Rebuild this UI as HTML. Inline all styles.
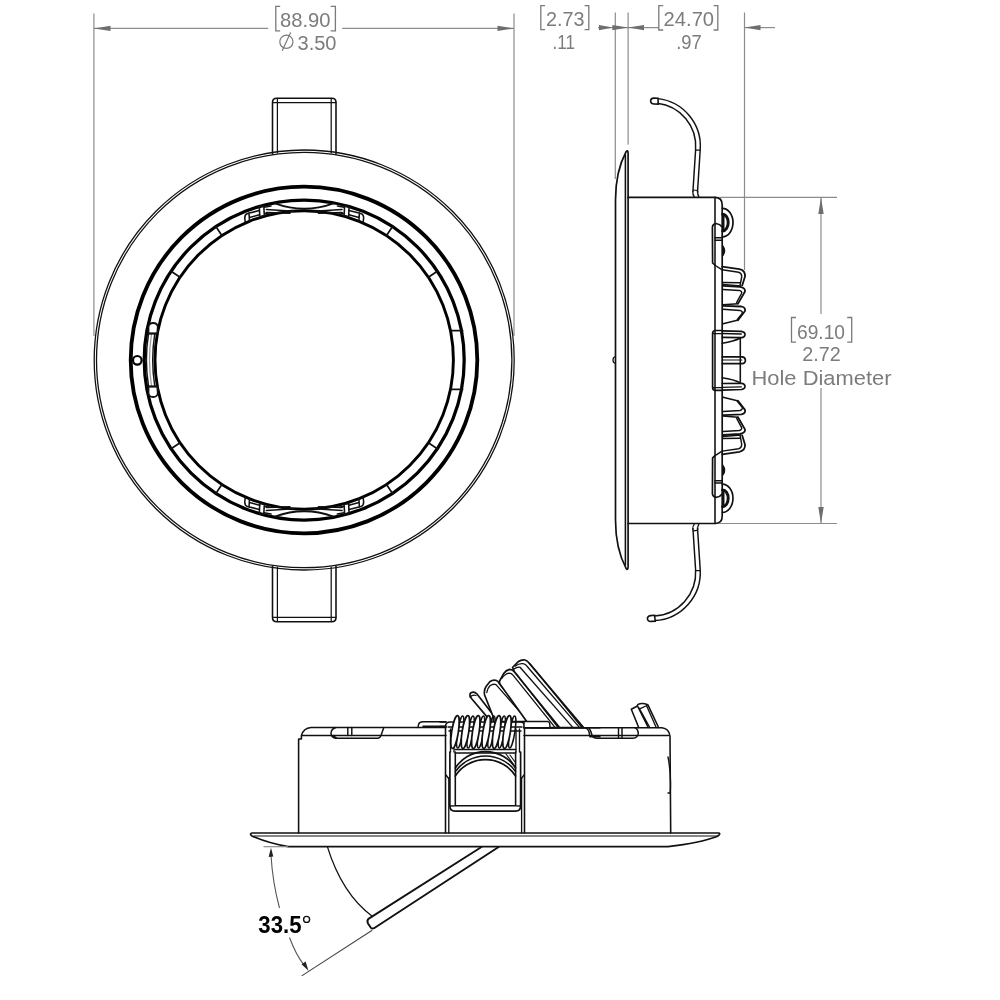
<!DOCTYPE html>
<html><head><meta charset="utf-8">
<style>
html,body{margin:0;padding:0;background:#fff;width:1000px;height:1000px;overflow:hidden}
svg{display:block;will-change:transform}
.t{font-family:"Liberation Sans",sans-serif;fill:#7c7c7c}
.k{fill:none;stroke:#111;stroke-linecap:round;stroke-linejoin:round}
.w{fill:#fff;stroke:#111;stroke-linecap:round;stroke-linejoin:round}
.g{fill:none;stroke:#8c8c8c;stroke-width:1.2}
.ar{fill:#6e6e6e;stroke:none}
</style></head>
<body>
<svg width="1000" height="1000" viewBox="0 0 1000 1000">
<rect width="1000" height="1000" fill="#fff"/>

<g>
  <line class="g" x1="93.9" y1="13.5" x2="93.9" y2="336"/>
  <line class="g" x1="514" y1="13.5" x2="514" y2="336"/>
  <line class="g" x1="93.9" y1="28.4" x2="268.2" y2="28.4"/>
  <line class="g" x1="342.2" y1="28.4" x2="514" y2="28.4"/>
  <path class="ar" d="M93.9 28.4 L110.5 25.7 L110.5 31.1 Z"/>
  <path class="ar" d="M514 28.4 L497.5 25.7 L497.5 31.1 Z"/>
  <line class="g" x1="615.3" y1="12.6" x2="615.3" y2="179"/>
  <line class="g" x1="628.1" y1="12.6" x2="628.1" y2="144.5"/>
  <line class="g" x1="744.5" y1="12.6" x2="744.5" y2="270"/>
  <line class="g" x1="598" y1="27.6" x2="658.8" y2="27.6"/>
  <line class="g" x1="744.5" y1="27.6" x2="775" y2="27.6"/>
  <path class="ar" d="M613 27.6 L599 24.9 L599 30.3 Z"/>
  <path class="ar" d="M628.1 27.6 L612.4 24.9 L612.4 30.3 Z"/>
  <path class="ar" d="M628.1 27.6 L644 24.9 L644 30.3 Z"/>
  <path class="ar" d="M744.5 27.6 L760.5 24.9 L760.5 30.3 Z"/>
</g>
<g class="t" font-size="20.5">
  <text x="280" y="27.2" textLength="50.5" lengthAdjust="spacingAndGlyphs">88.90</text>
  <text x="297.5" y="50" textLength="39" lengthAdjust="spacingAndGlyphs">3.50</text>
  <text x="546" y="26" textLength="38.5" lengthAdjust="spacingAndGlyphs">2.73</text>
  <text x="552.5" y="48.6" textLength="22.5" lengthAdjust="spacingAndGlyphs">.11</text>
  <text x="663.6" y="26" textLength="50.5" lengthAdjust="spacingAndGlyphs">24.70</text>
  <text x="676.2" y="48.8" textLength="25.5" lengthAdjust="spacingAndGlyphs">.97</text>
  <text x="797" y="338.6" textLength="48" lengthAdjust="spacingAndGlyphs">69.10</text>
  <text x="802.2" y="361" textLength="38.5" lengthAdjust="spacingAndGlyphs">2.72</text>
  <text x="751.5" y="385" textLength="140" lengthAdjust="spacingAndGlyphs">Hole Diameter</text>
</g>
<g fill="none" stroke="#7a7a7a" stroke-width="1.3">
  <path d="M280.2 6.4 H275.8 V30.8 H280.2 M330.6 6.4 H335.4 V30.8 H330.6"/>
  <circle cx="286.4" cy="41.8" r="6.6" stroke-width="1.2"/>
  <path d="M290.6 32.4 L282.2 50.8" stroke-width="1.2"/>
  <path d="M545 5.6 H540.8 V29.7 H545 M584.6 5.6 H588.8 V29.7 H584.6"/>
  <path d="M663.2 5.6 H658.8 V30 H663.2 M713.6 5.6 H717.8 V30 H713.6"/>
  <path d="M796 317.5 H791.5 V342.2 H796 M847.2 317.5 H851.7 V342.2 H847.2"/>
</g>

<g id="front">
<path class="k" stroke-width="1.57" d="M272.5 154.0 L272.5 102.39999999999998 Q272.5 98.19999999999999 276.7 98.19999999999999 L331.8 98.19999999999999 Q336 98.19999999999999 336 102.39999999999998 L336 154.0"/>
<path class="k" stroke-width="1.23" d="M277.4 153.0 L277.4 98.60000000000002 M331.2 153.0 L331.2 98.60000000000002 M272.6 102.60000000000002 L336 102.60000000000002"/>
<path class="k" stroke-width="1.57" d="M272.5 566.0 L272.5 617.6 Q272.5 621.8 276.7 621.8 L331.8 621.8 Q336 621.8 336 617.6 L336 566.0"/>
<path class="k" stroke-width="1.23" d="M277.4 567.0 L277.4 621.4 M331.2 567.0 L331.2 621.4 M272.6 617.4 L336 617.4"/>
<circle cx="304.2" cy="360.0" r="210.0" fill="none" stroke="#111" stroke-width="1.29"/>
<circle cx="304.2" cy="360.0" r="207.7" fill="none" stroke="#111" stroke-width="1.29"/>
<circle cx="304" cy="360.0" r="173.3" fill="none" stroke="#000" stroke-width="3.81"/>
<circle cx="304.2" cy="360.0" r="160" fill="none" stroke="#000" stroke-width="3.25"/>
<circle cx="304.2" cy="360.0" r="149.2" fill="none" stroke="#000" stroke-width="2.91"/>
<line class="k" stroke-width="1.68" x1="180.07" y1="277.22" x2="171.09" y2="271.22"/>
<line class="k" stroke-width="1.68" x1="221.85" y1="235.58" x2="215.89" y2="226.58"/>
<line class="k" stroke-width="1.68" x1="386.55" y1="235.58" x2="392.51" y2="226.58"/>
<line class="k" stroke-width="1.68" x1="428.33" y1="277.22" x2="437.31" y2="271.22"/>
<line class="k" stroke-width="1.68" x1="428.33" y1="442.78" x2="437.31" y2="448.78"/>
<line class="k" stroke-width="1.68" x1="386.55" y1="484.42" x2="392.51" y2="493.42"/>
<line class="k" stroke-width="1.68" x1="221.85" y1="484.42" x2="215.89" y2="493.42"/>
<line class="k" stroke-width="1.68" x1="180.07" y1="442.78" x2="171.09" y2="448.78"/>
<line class="k" stroke-width="1.79" x1="451.5" y1="330.6" x2="462.5" y2="330.6"/>
<line class="k" stroke-width="1.79" x1="451.5" y1="389.4" x2="462.5" y2="389.4"/>
<circle cx="137.3" cy="360.3" r="4.3" fill="#fff" stroke="#000" stroke-width="2.24"/>
<path d="M148.6 333.5 Q144.2 360 148.6 386.5" fill="none" stroke="#111" stroke-width="1.46"/>
<path d="M151.6 333.5 Q147.4 360 151.6 386.5" fill="none" stroke="#999" stroke-width="1.23"/>
<path d="M154.8 333.5 Q150.6 360 154.8 386.5" fill="none" stroke="#111" stroke-width="1.46"/>
<path class="w" stroke-width="1.79" d="M148.5 333.5 L148.5 327 Q149 323 153 323 Q157.5 323 157.8 327 L157.2 333.5 Z"/>
<path class="w" stroke-width="1.79" d="M148.5 386.5 L148.5 393 Q149 397 153 397 Q157.5 397 157.8 393 L157.2 386.5 Z"/>
<line class="k" stroke-width="1.46" x1="148" y1="333.5" x2="157" y2="333.5"/>
<line class="k" stroke-width="1.46" x1="148" y1="386.5" x2="157" y2="386.5"/>
<path class="k" stroke-width="1.90" d="M275 203.4 Q304.2 214.2 333.4 203.4"/>
<path class="k" stroke-width="1.46" d="M266.3 209.4 L294 211.2 M266.3 212.6 L290 213.2"/>
<path class="k" stroke-width="1.46" d="M342.09999999999997 209.4 L314.4 211.2 M342.09999999999997 212.6 L318.4 213.2"/>
<path class="k" stroke-width="1.57" d="M259.3 206.5 L263.8 205.6 L264.3 215.5 L259.8 217.0 Z"/>
<path class="k" stroke-width="1.57" d="M264.3 207.2 L271 206.0 M265 213.5 L270 212.8"/>
<path class="k" stroke-width="1.57" d="M259.3 210.5 L247.5 213.5 Q244.5 214.5 244.8 218.5 L245.2 222.0 M249 212.8 L249.5 221.2 M249.5 217.5 L259.5 214.8"/>
<path class="k" stroke-width="1.57" d="M349.09999999999997 206.5 L344.59999999999997 205.6 L344.09999999999997 215.5 L348.59999999999997 217.0 Z"/>
<path class="k" stroke-width="1.57" d="M344.09999999999997 207.2 L337.4 206.0 M343.4 213.5 L338.4 212.8"/>
<path class="k" stroke-width="1.57" d="M349.09999999999997 210.5 L360.9 213.5 Q363.9 214.5 363.59999999999997 218.5 L363.2 222.0 M359.4 212.8 L358.9 221.2 M358.9 217.5 L348.9 214.8"/>
<path class="k" stroke-width="1.90" d="M275 516.6 Q304.2 505.8 333.4 516.6"/>
<path class="k" stroke-width="1.46" d="M266.3 510.6 L294 508.8 M266.3 507.4 L290 506.8"/>
<path class="k" stroke-width="1.46" d="M342.09999999999997 510.6 L314.4 508.8 M342.09999999999997 507.4 L318.4 506.8"/>
<path class="k" stroke-width="1.57" d="M259.3 513.5 L263.8 514.4 L264.3 504.5 L259.8 503.0 Z"/>
<path class="k" stroke-width="1.57" d="M264.3 512.8 L271 514.0 M265 506.5 L270 507.2"/>
<path class="k" stroke-width="1.57" d="M259.3 509.5 L247.5 506.5 Q244.5 505.5 244.8 501.5 L245.2 498.0 M249 507.2 L249.5 498.8 M249.5 502.5 L259.5 505.2"/>
<path class="k" stroke-width="1.57" d="M349.09999999999997 513.5 L344.59999999999997 514.4 L344.09999999999997 504.5 L348.59999999999997 503.0 Z"/>
<path class="k" stroke-width="1.57" d="M344.09999999999997 512.8 L337.4 514.0 M343.4 506.5 L338.4 507.2"/>
<path class="k" stroke-width="1.57" d="M349.09999999999997 509.5 L360.9 506.5 Q363.9 505.5 363.59999999999997 501.5 L363.2 498.0 M359.4 507.2 L358.9 498.8 M358.9 502.5 L348.9 505.2"/>
</g>
<g id="side">
<path class="k" stroke-width="1.68" d="M615.5 520 L615.5 200 C615.5 178 620 163 626.2 151.5 Q628 149.6 628.1 153 L628.1 567 Q628 570.6 626.2 568.6 C620 557 615.5 542 615.5 520"/>
<line class="k" stroke-width="1.57" x1="625.4" y1="155" x2="625.4" y2="565"/>
<path d="M615.5 356.5 Q613 357 613 360 Q613 363 615.5 363.5" fill="none" stroke="#111" stroke-width="1.23"/>
<path class="k" stroke-width="1.68" d="M628.1 197.4 L715 197.4 Q722.2 197.4 722.2 205 L722.2 516 Q722.2 523.5 715 523.5 L628.1 523.5"/>
<line class="k" stroke-width="1.57" x1="715" y1="197.4" x2="715" y2="523.5"/>
<path class="k" stroke-width="1.79" d="M722.2 266.6 L739.4 269.1 Q745.5 270.5 745 276.5 L742.2 285.4"/>
<path class="k" stroke-width="1.79" d="M 722.2 454.30 L 739.4 451.80 Q 745.5 450.40 745.0 444.40 L 742.2 435.50"/>
<path class="k" stroke-width="1.46" d="M722.2 269.8 L738.7 272.2 Q742.5 273.5 741.5 278 L740.1 285.2"/>
<path class="k" stroke-width="1.46" d="M 722.2 451.10 L 738.7 448.70 Q 742.5 447.40 741.5 442.90 L 740.1 435.70"/>
<path class="k" stroke-width="1.46" d="M723 282.4 L740 282.7 M723 284.5 L740.8 285.9"/>
<path class="k" stroke-width="1.46" d="M 723.0 438.50 L 740.0 438.20 M 723.0 436.40 L 740.8 435.00"/>
<path class="k" stroke-width="1.79" d="M723 285.9 L740 286.9 Q745.5 288 745 291.5 L738 303.6"/>
<path class="k" stroke-width="1.79" d="M 723.0 435.00 L 740.0 434.00 Q 745.5 432.90 745.0 429.40 L 738.0 417.30"/>
<path class="k" stroke-width="1.46" d="M723 289.4 L739.4 290.4 Q742.5 291.5 741.5 293.5 L736.6 302.7"/>
<path class="k" stroke-width="1.46" d="M 723.0 431.50 L 739.4 430.50 Q 742.5 429.40 741.5 427.40 L 736.6 418.20"/>
<path class="k" stroke-width="1.46" d="M723 304.8 L738 303.7"/>
<path class="k" stroke-width="1.46" d="M 723.0 416.10 L 738.0 417.20"/>
<path class="k" stroke-width="1.79" d="M723 305.8 L741.5 306.5 Q745.8 307.5 745 311 L738 320.2"/>
<path class="k" stroke-width="1.79" d="M 723.0 415.10 L 741.5 414.40 Q 745.8 413.40 745.0 409.90 L 738.0 400.70"/>
<path class="k" stroke-width="1.46" d="M723 309.3 L740 310.4 Q743 311.5 742.2 313.5 L737.3 319.5"/>
<path class="k" stroke-width="1.46" d="M 723.0 411.60 L 740.0 410.50 Q 743.0 409.40 742.2 407.40 L 737.3 401.40"/>
<path class="k" stroke-width="1.46" d="M723 323.7 L737.3 320.2"/>
<path class="k" stroke-width="1.46" d="M 723.0 397.20 L 737.3 400.70"/>
<path class="k" stroke-width="1.68" d="M722.2 330.5 L715.5 330.5 Q712.6 330.5 712.6 333.5 L712.6 387.5 Q712.6 390.4 715.5 390.4 L722.2 390.4"/>
<path class="k" stroke-width="1.34" d="M713 333.6 L722 333.6 M713 387.6 L722 387.6"/>
<path class="k" stroke-width="1.68" d="M722.2 330.8 L741.5 331.4 Q745.3 332.3 745 334.8 Q744.5 337.4 741.5 337.6 L722.2 337.4"/>
<path class="k" stroke-width="1.34" d="M722.2 333.5 L741.3 334.0"/>
<path class="k" stroke-width="1.57" d="M722.2 343.2 Q734 341.5 740.3 338.0"/>
<path class="k" stroke-width="1.68" d="M722.2 390.09999999999997 L741.5 389.5 Q745.3 388.59999999999997 745 386.09999999999997 Q744.5 383.5 741.5 383.29999999999995 L722.2 383.5"/>
<path class="k" stroke-width="1.34" d="M722.2 387.4 L741.3 386.9"/>
<path class="k" stroke-width="1.57" d="M722.2 377.7 Q734 379.4 740.3 382.9"/>
<line class="k" stroke-width="1.57" x1="740.3" y1="338" x2="740.3" y2="382"/>
<path class="k" stroke-width="1.68" d="M722.2 356.8 L742 356.8 Q745.4 357 745.4 360.2 Q745.4 363.5 742 363.6 L722.2 363.6"/>
<path class="k" stroke-width="1.23" d="M722.2 360 L741.8 360"/>
<path class="k" stroke-width="1.68" d="M722.4 208.4 A10.6 14.2 0 0 1 722.4 236.8"/>
<path class="k" stroke-width="2.91" d="M722.6 214.2 A5.6 8.4 0 0 1 722.6 231.0"/>
<path class="k" stroke-width="1.79" d="M723.6 214.0 L723.6 231.0"/>
<path class="k" stroke-width="1.68" d="M714.8 265.0 L712.6 263.0 L712.4 227.0 Q712.8 224.0 716 223.5 Q720 224.0 722.2 227.0"/>
<path class="k" stroke-width="1.46" d="M715 237.8 L722.2 237.8 M715 240.2 L722.2 240.2 M714.6 265.0 L722.2 269.8"/>
<path d="M723 246.0 Q726.5 250.5 723 255.5 Z" fill="#111" stroke="#111" stroke-width="1.12"/>
<path class="k" stroke-width="1.68" d="M722.4 512.5 A10.6 14.2 0 0 0 722.4 484.09999999999997"/>
<path class="k" stroke-width="2.91" d="M722.6 506.7 A5.6 8.4 0 0 0 722.6 489.9"/>
<path class="k" stroke-width="1.79" d="M723.6 506.9 L723.6 489.9"/>
<path class="k" stroke-width="1.68" d="M714.8 455.9 L712.6 457.9 L712.4 493.9 Q712.8 496.9 716 497.4 Q720 496.9 722.2 493.9"/>
<path class="k" stroke-width="1.46" d="M715 483.09999999999997 L722.2 483.09999999999997 M715 480.7 L722.2 480.7 M714.6 455.9 L722.2 451.09999999999997"/>
<path d="M723 474.9 Q726.5 470.4 723 465.4 Z" fill="#111" stroke="#111" stroke-width="1.12"/>
<path d="M657.6 100.9 A45.6 45.6 0 0 1 697.9 149.8 L695.2 192" fill="none" stroke="#111" stroke-width="6.05" stroke-linecap="butt"/>
<path d="M657.6 100.9 A45.6 45.6 0 0 1 697.9 149.8 L695.2 192" fill="none" stroke="#fff" stroke-width="3.14" stroke-linecap="butt"/>
<path d="M658 98.2 L653.8 98.1 Q650.6 98.3 650.6 101 Q650.8 104 654 104 L658.2 104.1 Z" fill="#fff" stroke="#111" stroke-width="1.57"/>
<path d="M696 150.2 L700.3 150.2 M692.8 190.0 L697.6 190.5" stroke="#111" stroke-width="1.23"/>
<path d="M692.8 191.0 Q692.5 195.0 694.5 197.0 M697.6 191.0 Q697.5 195.0 699 197.0" fill="none" stroke="#111" stroke-width="1.34"/>
<path d="M654.6 618.3 A46 46 0 0 0 697.9 569.6 L695.2 528" fill="none" stroke="#111" stroke-width="6.05" stroke-linecap="butt"/>
<path d="M654.6 618.3 A46 46 0 0 0 697.9 569.6 L695.2 528" fill="none" stroke="#fff" stroke-width="3.14" stroke-linecap="butt"/>
<path d="M654.6 615.3 L650.6 615.6 Q647.2 616.2 647.4 619 Q647.8 621.6 651 621.4 L655.2 621.2 Z" fill="#fff" stroke="#111" stroke-width="1.57"/>
<path d="M696 570.7 L700.3 570.7 M692.8 530.9 L697.6 530.4" stroke="#111" stroke-width="1.23"/>
<path d="M692.8 529.9 Q692.5 525.9 694.5 523.9 M697.6 529.9 Q697.5 525.9 699 523.9" fill="none" stroke="#111" stroke-width="1.34"/>
</g>
<g>
  <line class="g" x1="719" y1="197.4" x2="837" y2="197.4"/>
  <line class="g" x1="719" y1="523.5" x2="837" y2="523.5"/>
  <line class="g" x1="821" y1="197.4" x2="821" y2="314"/>
  <line class="g" x1="821" y1="388" x2="821" y2="523.5"/>
  <path class="ar" d="M821 197.4 L818.3 214 L823.7 214 Z"/>
  <path class="ar" d="M821 523.5 L818.3 507 L823.7 507 Z"/>
</g>
<g id="bottom">
<path class="k" stroke-width="1.68" d="M288.2 846.6 L668 846.6 Q700 843 717 836.5 Q721 834 719 833 L252 833 Q249 833.5 252 836 Q268 843 288.2 846.6"/>
<line class="k" stroke-width="1.12" x1="254" y1="836" x2="717" y2="836"/>
<path class="k" stroke-width="1.57" d="M298.6 833 L298.6 739 L301.4 739 L301.4 735.6 Q303.5 728 311 727.5 L446 727.5"/>
<path class="k" stroke-width="1.46" d="M301.7 735.6 L446 735.6"/>
<path class="k" stroke-width="1.46" d="M336 727.5 Q331.5 728.5 331 733 Q331 737.6 335.5 738.2 L378 738.2 Q380.2 738 381 735.5 L383.8 727.5 M333 735.6 L336.8 738 M347.8 727.5 L347.8 735.6 M351.8 727.5 L351.8 735.6"/>
<path class="k" stroke-width="1.46" d="M418 727.5 L418.5 724.5 Q419.5 721.7 423 721.7 L446 721.7 M423 726.2 L446 726.2"/>
<path class="k" stroke-width="1.57" d="M524 727.7 L662 727.7 Q669 728.5 670 736 L670.7 833"/>
<path class="k" stroke-width="1.46" d="M524 735.6 L668.5 735.6"/>
<path class="k" stroke-width="1.34" d="M668 757 Q671.5 775 670.2 793 L668 793"/>
<path class="k" stroke-width="1.46" d="M588.8 727.7 Q591 731 592 735 Q593 738.3 597 738.3 L633 738.3 Q638 738 638.3 733 Q638 729 635 727.7 M618.5 727.7 L618.5 738.3 M622 727.7 L622 738.3"/>
<path class="k" stroke-width="1.57" d="M638.7 727.5 L631.3 709.2 L637 706.2 L638 704.4 Q642 702.4 647.8 704.7 L658.6 727.5"/>
<path class="k" stroke-width="1.34" d="M637.4 706.2 L639.6 708.8 L647 705.5 M637.8 706.6 L648.1 727.5 M639.4 708.6 L649.8 727.5 M646.6 705.8 L656.2 727.5"/>
<path class="k" stroke-width="1.46" d="M583 727.7 L585 727.7 Q588 728.5 588.8 731 L590 736.8 L600 736.8"/>
<path class="k" stroke-width="1.57" d="M445.5 833 L445.5 726 Q446 722 450 722 L520 722 Q524.5 722 524.5 726 L524.5 833"/>
<path class="k" stroke-width="1.34" d="M448.8 833 L448.8 778 M521.6 833 L521.6 778"/>
<path class="k" stroke-width="1.34" d="M446 775 L449 779 M524 775 L521 779"/>
<path class="k" stroke-width="1.68" d="M449.9 752 L449.9 806 Q449.9 811.1 455 811.1 L515.5 811.1 Q520.6 811.1 520.6 806 L520.6 752"/>
<path class="k" stroke-width="1.57" d="M455.3 752 L455.3 805.7 L515.6 805.7 L515.6 752 M449.9 806 L455.3 805.7 M520.6 806 L515.6 805.7"/>
<path class="k" stroke-width="1.68" d="M455.3 768 A36 36 0 0 1 515.6 768"/>
<path class="k" stroke-width="1.57" d="M455.3 771.5 A37 37 0 0 1 515.6 771.5"/>
<path class="k" stroke-width="1.68" d="M455.3 776 A36 36 0 0 1 515.6 776"/>
<path class="k" stroke-width="1.12" d="M510 755 L515 762 M506 754 L514 765"/>
<path class="k" stroke-width="1.57" d="M455.3 749.5 L515.6 749.5 M455.3 753 L515.6 753"/>
<path class="k" stroke-width="1.34" d="M450.5 729 L450.5 752 M519.5 729 L519.5 752 M454 729 L454 752 M516 729 L516 752"/>
<path class="k" stroke-width="1.34" d="M448 727 L522 727 M449 731 L521 731"/>
<path class="k" stroke-width="1.68" d="M488.5 718.6 L471.5 698.5 Q468.5 694.5 471 692.8 Q474 691 477 694 L494 716"/>
<path class="k" stroke-width="1.23" d="M470 697 Q472.5 694.5 476 695.5"/>
<path class="w" stroke-width="1.68" d="M493.2 716.8 L484.6 695 Q483.6 690 486.2 686.2 L489.8 681.8 Q493 679.5 496.5 680.5 Q498.6 681.5 499.2 683.5 L531 721.5 L493.2 721.5 Z"/>
<path class="k" stroke-width="1.34" d="M486.8 692.5 Q487.2 688.5 490 685.8 Q493 683.6 496 684.6 L528.4 721.5 M500.6 684.6 L530 721.4"/>
<path class="w" stroke-width="1.68" d="M512.5 667.5 L518 661.8 Q521.5 659.5 525 660 Q527.6 660.8 528.7 662.6 L583.6 727.6 L540 727.6 Z"/>
<path class="k" stroke-width="1.34" d="M515.4 666 Q519 663.2 523 663.7 Q525.6 664.2 527 666.2 L579.6 727.6 M530.3 664.2 L582 727.6 M514 669 Q516.5 667 520 667.2 L573 727.6"/>
<path class="w" stroke-width="1.68" d="M499.6 681 L503.5 673.8 Q506 670.2 509.5 669.4 Q512.6 669.5 514.2 671.7 L559.6 727.6 L531 727.6 L499.6 683.5 Z"/>
<path class="k" stroke-width="1.34" d="M502 678.2 Q505 673.8 509 673.2 Q511.6 673.2 513 675.2 L555.2 727.6 M515.8 673.2 L558.2 727.6"/>
<path class="w" stroke-width="1.46" d="M524 727.7 L524 721.4 L547.5 721.4 Q549.6 721.8 549.8 724 L550 727.7 Z"/>
<path class="k" stroke-width="1.57" d="M524 727.7 L600 727.7"/>
<path class="k" stroke-width="1.46" d="M440 722 L446 722 M440 726.5 L446 726.5"/>
<ellipse cx="460.20" cy="732" rx="2.6" ry="16.2" transform="rotate(9 460.20 732)" fill="none" stroke="#111" stroke-width="1.46"/>
<ellipse cx="470.60" cy="732" rx="2.6" ry="16.2" transform="rotate(9 470.60 732)" fill="none" stroke="#111" stroke-width="1.46"/>
<ellipse cx="481.00" cy="732" rx="2.6" ry="16.2" transform="rotate(9 481.00 732)" fill="none" stroke="#111" stroke-width="1.46"/>
<ellipse cx="491.40" cy="732" rx="2.6" ry="16.2" transform="rotate(9 491.40 732)" fill="none" stroke="#111" stroke-width="1.46"/>
<ellipse cx="501.80" cy="732" rx="2.6" ry="16.2" transform="rotate(9 501.80 732)" fill="none" stroke="#111" stroke-width="1.46"/>
<ellipse cx="512.20" cy="732" rx="2.6" ry="16.2" transform="rotate(9 512.20 732)" fill="none" stroke="#111" stroke-width="1.46"/>
<ellipse cx="455.00" cy="732" rx="3.3" ry="16.6" transform="rotate(9 455.00 732)" fill="#fff" stroke="#111" stroke-width="1.68"/>
<ellipse cx="465.40" cy="732" rx="3.3" ry="16.6" transform="rotate(9 465.40 732)" fill="#fff" stroke="#111" stroke-width="1.68"/>
<ellipse cx="475.80" cy="732" rx="3.3" ry="16.6" transform="rotate(9 475.80 732)" fill="#fff" stroke="#111" stroke-width="1.68"/>
<ellipse cx="486.20" cy="732" rx="3.3" ry="16.6" transform="rotate(9 486.20 732)" fill="#fff" stroke="#111" stroke-width="1.68"/>
<ellipse cx="496.60" cy="732" rx="3.3" ry="16.6" transform="rotate(9 496.60 732)" fill="#fff" stroke="#111" stroke-width="1.68"/>
<ellipse cx="507.00" cy="732" rx="3.3" ry="16.6" transform="rotate(9 507.00 732)" fill="#fff" stroke="#111" stroke-width="1.68"/>
</g>
<g>
  <path class="k" stroke-width="1.9" d="M481.5 847 L368.8 918.6 Q366.5 920.5 368 923.5 L370.7 927.6 Q372 929 374 928.2 L498.6 847"/>
  <path class="k" stroke-width="1.2" d="M327.4 846.8 Q342 894 372.5 916.5"/>
  <line class="g" x1="263.5" y1="846.7" x2="288.2" y2="846.7" stroke-width="1.1"/>
  <path fill="none" stroke="#555" stroke-width="1.1" d="M271 855 Q272.5 882 279.5 908"/>
  <path fill="none" stroke="#555" stroke-width="1.1" d="M289.5 937.5 Q296 955 304 965"/>
  <path fill="#222" d="M271 847.7 L268.6 857 L273.3 856.5 Z"/>
  <path fill="#222" d="M308.5 970.7 L301.5 964.2 L305.6 961.6 Z"/>
  <line stroke="#444" stroke-width="1.1" x1="301.7" y1="975.9" x2="372.2" y2="930.2"/>
</g>
<text x="258.3" y="932.8" font-family="Liberation Sans, sans-serif" font-weight="bold" font-size="23" fill="#000" textLength="43.2" lengthAdjust="spacingAndGlyphs">33.5</text>
<circle cx="306.6" cy="919.4" r="3" fill="none" stroke="#111" stroke-width="1.4"/>

</svg>
</body></html>
